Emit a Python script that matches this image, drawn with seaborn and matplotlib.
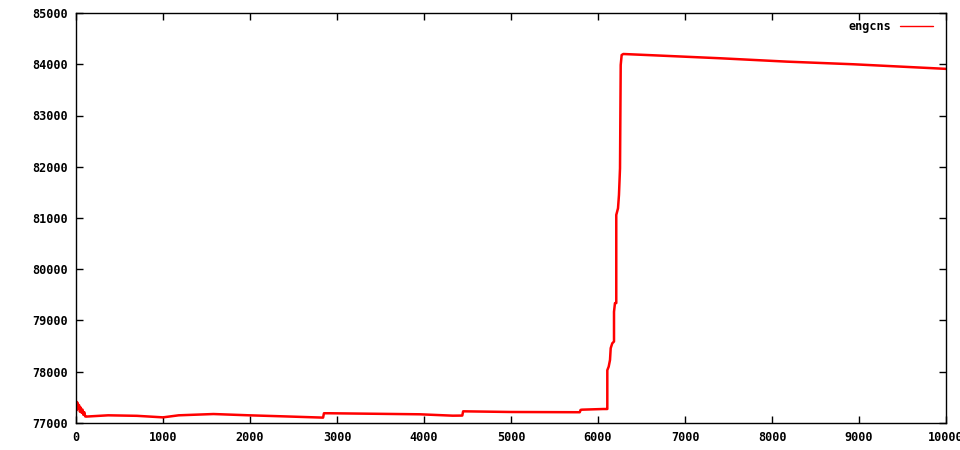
import numpy as np
import pandas as pd
import matplotlib
matplotlib.use("Agg")
import matplotlib.pyplot as plt
import seaborn as sns

# ---- data ----
x_vals = [0, 8, 15, 25, 35, 45, 55, 65, 75, 85, 95, 105, 115,
          370, 700, 1000, 1180, 1580, 1990, 2380, 2840, 2850, 2920,
          3950, 4330, 4440, 4450, 4990, 5790, 5800, 5815, 6060, 6100,
          6107, 6107, 6123, 6138, 6146, 6164, 6184, 6184, 6195, 6210,
          6210, 6230, 6241, 6253, 6261, 6272, 6291, 6632, 7402, 8172,
          8931, 10000]
y_vals = [77430, 77250, 77400, 77280, 77350, 77220, 77300, 77200, 77260,
          77160, 77210, 77130, 77125,
          77150, 77140, 77110, 77150, 77175, 77150, 77130, 77105, 77190, 77190,
          77170, 77143, 77145, 77228, 77215, 77210, 77255, 77260, 77273, 77273,
          77273, 78030, 78100, 78230, 78460, 78555, 78590, 79170, 79340, 79340,
          81060, 81190, 81450, 81970, 83985, 84180, 84200, 84175, 84117, 84051,
          84000, 83910]
series_name = "engcns"
x_ticks = list(range(0, 10001, 1000))
y_ticks = list(range(77000, 85001, 1000))

df = pd.DataFrame({"x": x_vals, "y": y_vals, "series": series_name})

sns.set_style("white")
plt.rcParams["font.family"] = ["DejaVu Sans Mono", "DejaVu Sans"]
plt.rcParams["font.weight"] = "bold"
plt.rcParams["text.color"] = "black"

fig = plt.figure(figsize=(9.6, 4.5), dpi=100)
ax = fig.add_axes([76/960, 1-423/450, (946-76)/960, (423-13)/450])

sns.lineplot(data=df, x="x", y="y", hue="series", palette=["#ff0000"],
             estimator=None, sort=False, linewidth=1.8, ax=ax)

ax.set_xlim(0, 10000)
ax.set_ylim(77000, 85000)
ax.set_xticks(x_ticks)
ax.set_yticks(y_ticks)
ax.set_xlabel("")
ax.set_ylabel("")
for s in ax.spines.values():
    s.set_visible(True)
    s.set_color("black")
    s.set_linewidth(1.0)
ax.tick_params(direction="in", length=5, width=1, color="black",
               top=True, right=True, labelsize=8.5, labelcolor="black",
               bottom=True, left=True, pad=6)
for lab in ax.get_xticklabels() + ax.get_yticklabels():
    lab.set_fontweight("bold")

leg = ax.legend(loc="upper right", bbox_to_anchor=(0.99, 0.995),
                frameon=False, markerfirst=False,
                handlelength=2.8, handletextpad=0.7, borderaxespad=0,
                prop={"family": "DejaVu Sans Mono", "weight": "bold", "size": 8.5})
for t in leg.get_texts():
    t.set_color("black")
for h in leg.get_lines():
    h.set_linewidth(1.0)

fig.savefig("out.png", dpi=100)
